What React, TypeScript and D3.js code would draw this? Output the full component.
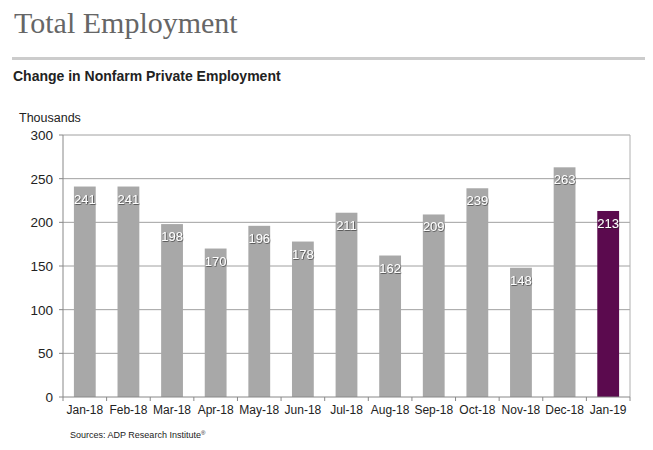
import React from "react";
import * as d3 from "d3";

const categories = ["Jan-18","Feb-18","Mar-18","Apr-18","May-18","Jun-18","Jul-18","Aug-18","Sep-18","Oct-18","Nov-18","Dec-18","Jan-19"];
const values = [241,241,198,170,196,178,211,162,209,239,148,263,213];
const yTicks = [0,50,100,150,200,250,300];

export default function App() {
  const W = 653, H = 450;
  const left = 63, right = 630, top = 135, bottom = 397;
  const x = d3.scaleBand<string>().domain(categories).range([left, right]).paddingInner(0.5).paddingOuter(0.25);
  const xb = d3.scaleBand<string>().domain(categories).range([left, right]);
  const y = d3.scaleLinear().domain([0, 300]).range([bottom, top]);
  const font = "Arial, 'Liberation Sans', sans-serif";
  return (
    <svg width={W} height={H} style={{ position: "absolute", left: 0, top: 0, background: "#fff" }}>
      <defs>
        <filter id="sh" x="-20%" y="-20%" width="140%" height="140%">
          <feDropShadow dx="0.6" dy="0.6" stdDeviation="0.5" floodColor="#222" floodOpacity="0.9" />
        </filter>
      </defs>
      <text x={14} y={33} fontSize={30} fill="#666" style={{ fontFamily: "'Liberation Serif', 'DejaVu Serif', serif" }}>Total Employment</text>
      <rect x={12} y={57} width={633} height={3} fill="#ccc" />
      <text x={13} y={81} fontFamily={font} fontSize={14} fontWeight="bold" fill="#222">Change in Nonfarm Private Employment</text>
      <text x={19} y={122} fontFamily={font} fontSize={12.5} fill="#222">Thousands</text>
      {yTicks.map(t => (
        <g key={t}>
          {t > 0 && <line x1={left} x2={right} y1={y(t)} y2={y(t)} stroke="#a0a0a0" strokeWidth={1} />}
          <line x1={left - 4} x2={left} y1={y(t)} y2={y(t)} stroke="#888" />
          <text x={53} y={y(t) + 5} textAnchor="end" fontFamily={font} fontSize={13.5} fill="#222">{t}</text>
        </g>
      ))}
      <line x1={right} x2={right} y1={top} y2={bottom} stroke="#b0b0b0" />
      {categories.map((c, i) => (
        <g key={c}>
          <rect x={x(c)} y={y(values[i])} width={x.bandwidth()} height={bottom - y(values[i])}
            fill={i === categories.length - 1 ? "#5b0a4e" : "#a8a8a8"} />
          <text x={(x(c) as number) + x.bandwidth() / 2} y={y(values[i]) + 17} textAnchor="middle"
            fontFamily={font} fontSize={13} fill="#fff" filter="url(#sh)">{values[i]}</text>
          <text x={(xb(c) as number) + xb.bandwidth() / 2} y={414} textAnchor="middle" fontFamily={font} fontSize={12} fill="#222">{c}</text>
        </g>
      ))}
      <line x1={left} x2={left} y1={top} y2={bottom} stroke="#888" />
      <line x1={left} x2={right} y1={bottom} y2={bottom} stroke="#888" />
      {d3.range(categories.length + 1).map(i => {
        const xx = left + i * xb.step();
        return <line key={i} x1={xx} x2={xx} y1={bottom} y2={bottom + 4} stroke="#888" />;
      })}
      <text x={70} y={438} fontFamily={font} fontSize={9} fill="#222">Sources: ADP Research Institute<tspan fontSize={6} dy={-3}>®</tspan></text>
    </svg>
  );
}
